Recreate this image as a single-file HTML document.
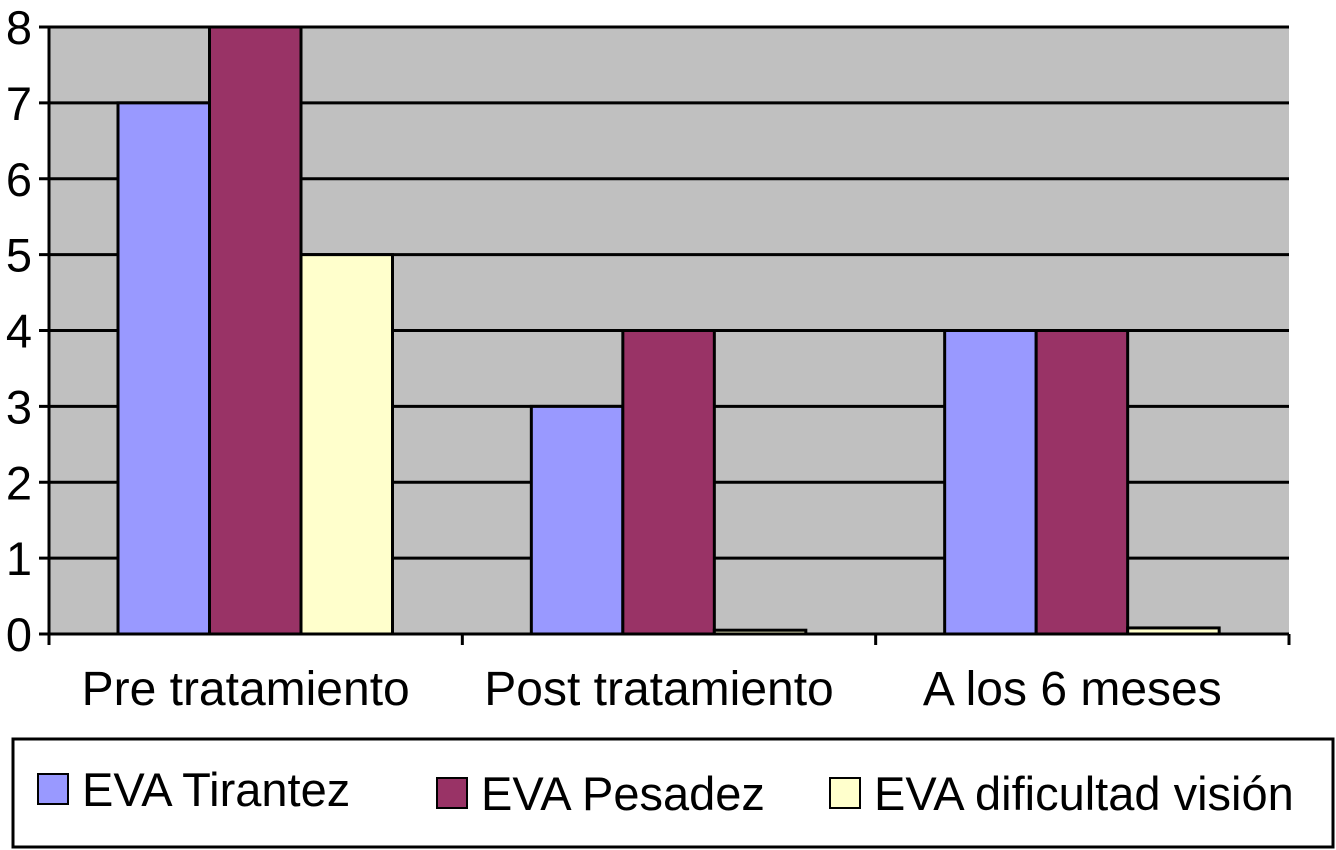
<!DOCTYPE html>
<html><head><meta charset="utf-8"><style>
html,body{margin:0;padding:0;background:#fff;}
svg{display:block;font-family:"Liberation Sans",Arial,sans-serif;}
</style></head><body>
<svg id="chart" width="1336" height="850">
<rect x="49" y="27" width="1240" height="607" fill="#c0c0c0"/>
<g id="grid"></g><g id="bars"></g><g id="axes"></g>
<rect x="13" y="739" width="1320" height="108" fill="#fff" stroke="#000" stroke-width="3"/>
<g><rect x="38" y="774" width="30" height="30" fill="#9999ff" stroke="#000" stroke-width="2"/><text x="82" y="806" font-size="47">EVA Tirantez</text></g>
<g><rect x="437" y="778" width="30" height="30" fill="#993366" stroke="#000" stroke-width="2"/><text x="481" y="810" font-size="47">EVA Pesadez</text></g>
<g><rect x="830" y="778" width="30" height="30" fill="#ffffcc" stroke="#000" stroke-width="2"/><text x="874" y="810" font-size="47">EVA dificultad visión</text></g>
</svg>
<script>
const categories=["Pre tratamiento","Post tratamiento","A los 6 meses"];
const seriesNames=["EVA Tirantez","EVA Pesadez","EVA dificultad visión"];
const tirantez=[7,3,4];
const pesadez=[8,4,4];
const vision=[5,0.05,0.08];
const yTicks=[0,1,2,3,4,5,6,7,8];
const colors=["#9999ff","#993366","#ffffcc"];
const NS="http://www.w3.org/2000/svg";
const L=49,R=1289,T=27,B=634,yMax=8;
const y=v=>B-(v/yMax)*(B-T);
const catW=(R-L)/categories.length;
const barW=91.5;
const x=(c,s)=>L+c*catW+69+s*barW;
function mk(tag,attrs,parent){const e=document.createElementNS(NS,tag);for(const k in attrs)e.setAttribute(k,attrs[k]);document.getElementById(parent).appendChild(e);return e;}
yTicks.forEach(t=>{
 const g=mk("line",{x1:L-10,x2:R,y1:y(t),y2:y(t),stroke:"#000","stroke-width":3},"grid");
 
 
 const tx=mk("text",{x:L-17,y:y(t)+17,"font-size":47,"text-anchor":"end"},"axes");
 tx.textContent=t;
 
 
});
const all=[tirantez,pesadez,vision];
all.forEach((arr,s)=>arr.forEach((v,c)=>{
 const r=mk("rect",{x:x(c,s),y:y(v),width:barW,height:B-y(v),fill:colors[s],stroke:"#000","stroke-width":3},"bars");
 
 
}));
const yl=mk("line",{x1:L,x2:L,y1:T,y2:B,stroke:"#000","stroke-width":3},"axes");


const xl=mk("line",{x1:L,x2:R,y1:B,y2:B,stroke:"#000","stroke-width":3},"axes");


for(let i=0;i<=categories.length;i++){
 const tk=mk("line",{x1:L+i*catW,x2:L+i*catW,y1:B,y2:B+11,stroke:"#000","stroke-width":3},"axes");
 
 
}
categories.forEach((c,i)=>{
 const t=mk("text",{x:L+(i+0.5)*catW-10,y:705,"font-size":48,"text-anchor":"middle"},"axes");
 t.textContent=c;
 
 
});
</script>
</body></html>
